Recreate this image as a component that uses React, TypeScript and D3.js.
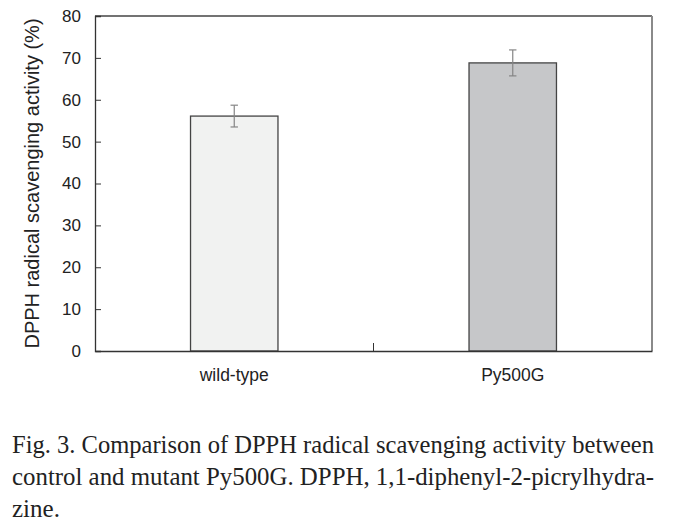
import React, { useRef, useEffect } from "react";
import * as d3 from "d3";

// DPPH radical scavenging activity (%), mean and error
const categories = ["wild-type", "Py500G"];
const means = [56.1, 68.8];
const errors = [2.6, 3.1];
const barFills = ["#f1f2f1", "#c6c7c9"];
const yTicks = [0, 10, 20, 30, 40, 50, 60, 70, 80];
const yLabel = "DPPH radical scavenging activity (%)";
const captionLines = [
  "Fig. 3. Comparison of DPPH radical scavenging activity between",
  "control and mutant Py500G. DPPH, 1,1-diphenyl-2-picrylhydra-",
  "zine.",
];

const W = 675, H = 530;
const margin = { top: 16, right: 23, bottom: 179, left: 95 };
const width = W - margin.left - margin.right;
const height = H - margin.top - margin.bottom;
const sans = "'Liberation Sans', Arial, sans-serif";
const serif = "'Liberation Serif', 'Times New Roman', serif";

export default function App() {
  const svgRef = useRef<SVGSVGElement>(null);

  useEffect(() => {
    const svg = d3.select(svgRef.current);
    svg.selectAll("*").remove();

    const x = d3.scaleBand<string>().domain(categories).range([0, width]).padding(0);
    const y = d3.scaleLinear().domain([0, 80]).range([height, 0]);
    const barW = x.bandwidth() * 0.314;

    const g = svg.append("g").attr("transform", `translate(${margin.left},${margin.top})`);

    // frame: top dark, right grey
    g.append("line").attr("x1", 0).attr("x2", width).attr("y1", 0).attr("y2", 0)
      .attr("stroke", "#444").attr("stroke-width", 1.3);
    g.append("line").attr("x1", width).attr("x2", width).attr("y1", 0).attr("y2", height)
      .attr("stroke", "#8a8a8a").attr("stroke-width", 2);

    // bars
    g.selectAll(".bar")
      .data(categories)
      .join("rect")
      .attr("class", "bar")
      .attr("x", (d) => x(d)! + x.bandwidth() / 2 - barW / 2)
      .attr("width", barW)
      .attr("y", (d, i) => y(means[i]))
      .attr("height", (d, i) => height - y(means[i]))
      .attr("fill", (d, i) => barFills[i])
      .attr("stroke", "#444")
      .attr("stroke-width", 1.3);

    // error bars
    const eb = g.selectAll(".err").data(categories).join("g").attr("class", "err")
      .attr("stroke", "#858585").attr("stroke-width", 1.2);
    eb.append("line")
      .attr("x1", (d) => x(d)! + x.bandwidth() / 2)
      .attr("x2", (d) => x(d)! + x.bandwidth() / 2)
      .attr("y1", (d, i) => y(means[i] + errors[i]))
      .attr("y2", (d, i) => y(means[i] - errors[i]));
    [1, -1].forEach((s) => {
      eb.append("line")
        .attr("x1", (d) => x(d)! + x.bandwidth() / 2 - 3.7)
        .attr("x2", (d) => x(d)! + x.bandwidth() / 2 + 3.7)
        .attr("y1", (d, i) => y(means[i] + s * errors[i]))
        .attr("y2", (d, i) => y(means[i] + s * errors[i]));
    });

    // y axis, ticks inward
    const yAxis = g.append("g")
      .call(d3.axisLeft(y).tickValues(yTicks).tickSize(-6).tickPadding(14));
    yAxis.select(".domain").attr("stroke", "#333").attr("stroke-width", 1.3);
    yAxis.selectAll(".tick line").attr("stroke", "#333");
    yAxis.selectAll("text").attr("font-family", sans).attr("font-size", 17).attr("fill", "#222");

    // x axis with category divider tick
    const xAxis = g.append("g").attr("transform", `translate(0,${height})`)
      .call(d3.axisBottom(x).tickSize(0).tickPadding(18));
    xAxis.select(".domain").attr("stroke", "#333").attr("stroke-width", 1.3);
    xAxis.selectAll("text").attr("font-family", sans).attr("font-size", 17.5).attr("fill", "#222");
    g.append("line")
      .attr("x1", x(categories[1])!).attr("x2", x(categories[1])!)
      .attr("y1", height).attr("y2", height - 8)
      .attr("stroke", "#333");

    // y label
    svg.append("text")
      .attr("transform", `translate(39,${margin.top + height / 2}) rotate(-90)`)
      .attr("text-anchor", "middle")
      .attr("font-family", sans)
      .attr("font-size", 20)
      .attr("fill", "#222")
      .text(yLabel);

    // caption
    svg.selectAll(".cap")
      .data(captionLines)
      .join("text")
      .attr("class", "cap")
      .attr("x", 12)
      .attr("y", (d, i) => 453 + i * 32)
      .attr("font-family", serif)
      .attr("font-size", 25)
      .attr("fill", "#222")
      .attr("textLength", (d, i) => (i < 2 ? 642 : null) as any)
      .attr("lengthAdjust", "spacingAndGlyphs")
      .text((d) => d);

    return () => {
      svg.selectAll("*").remove();
    };
  }, []);

  return (
    <svg
      ref={svgRef}
      width={W}
      height={H}
      style={{ position: "absolute", left: 0, top: 0, background: "#fff" }}
    />
  );
}
